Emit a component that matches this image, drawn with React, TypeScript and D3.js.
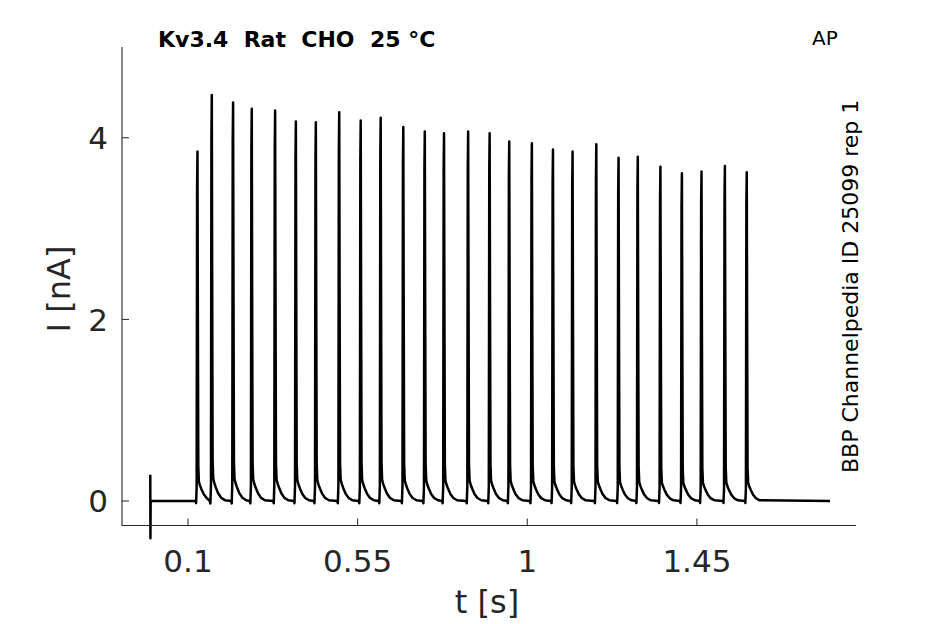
import React, { useRef, useEffect } from "react";
import * as d3 from "d3";

// spike times [s] and peak currents [nA]
const spikeTimes = [
  0.123, 0.161, 0.2175, 0.267, 0.329, 0.384, 0.437, 0.499, 0.556, 0.609,
  0.669, 0.726, 0.777, 0.841, 0.898, 0.95, 1.01, 1.066, 1.118, 1.181, 1.24,
  1.291, 1.351, 1.408, 1.46, 1.522, 1.58,
];
const spikePeaks = [
  3.85, 4.47, 4.39, 4.32, 4.3, 4.18, 4.17, 4.28, 4.19, 4.22, 4.12, 4.07, 4.05,
  4.07, 4.05, 3.96, 3.94, 3.87, 3.85, 3.93, 3.78, 3.79, 3.68, 3.61, 3.63, 3.69,
  3.62,
];
// one spike: offset [ms], fraction of peak
const spikeShapeMs = [-3, -1.5, 0, 1.2, 2.2, 3.2, 4.4, 6, 9, 13, 19, 27, 37];
const spikeShapeFrac = [0, -0.006, 0.04, 0.9, 1, 0.55, 0.1, 0.055, 0.044, 0.033, 0.019, 0.008, 0.002];
// stimulus artifact at t = 0 [s, nA]
const artifactT = [0, 0.0004, 0.001];
const artifactI = [0.29, -0.41, 0];
const traceEnd = 1.803;

const xTicks = [0.1, 0.55, 1, 1.45];
const yTicks = [0, 2, 4];

const W = 945;
const H = 624;

const App = () => {
  const ref = useRef<SVGSVGElement | null>(null);

  useEffect(() => {
    document.body.style.margin = "0";
    if (!ref.current) return;
    const svg = d3.select(ref.current);
    svg.selectAll("*").remove();

    const x = d3.scaleLinear().domain([-0.075, 1.872]).range([122, 856]);
    const y = d3.scaleLinear().domain([-0.27, 5]).range([525.5, 47]);
    const axisCol = "#262626";
    const font = "DejaVu Sans";

    // build the trace
    const pts: [number, number][] = artifactT.map((t, i) => [t, artifactI[i]]);
    spikeTimes.forEach((ts, i) => {
      const next = i < spikeTimes.length - 1 ? spikeTimes[i + 1] : Infinity;
      spikeShapeMs.forEach((ms, j) => {
        const t = ts + ms / 1000;
        if (t < next - 0.004) pts.push([t, spikePeaks[i] * spikeShapeFrac[j]]);
      });
    });
    pts.push([traceEnd, 0]);

    const line = d3
      .line<[number, number]>()
      .x((d) => x(d[0]))
      .y((d) => y(d[1]));

    svg
      .append("path")
      .attr("d", line(pts)!)
      .attr("fill", "none")
      .attr("stroke", "#000")
      .attr("stroke-width", 2.5)
      .attr("stroke-linejoin", "round");

    // axes
    const [x0, x1] = x.range();
    const [y0, y1] = y.range();
    svg
      .append("path")
      .attr("d", `M${x0},${y1}V${y0}H${x1}`)
      .attr("fill", "none")
      .attr("stroke", axisCol)
      .attr("stroke-width", 1.1);

    svg
      .selectAll(".xt")
      .data(xTicks)
      .enter()
      .append("line")
      .attr("x1", (d) => x(d))
      .attr("x2", (d) => x(d))
      .attr("y1", y0)
      .attr("y2", y0 - 7)
      .attr("stroke", axisCol);

    svg
      .selectAll(".xl")
      .data(xTicks)
      .enter()
      .append("text")
      .attr("x", (d) => x(d))
      .attr("y", 572)
      .attr("text-anchor", "middle")
      .attr("font-family", font)
      .attr("font-size", 31)
      .attr("fill", axisCol)
      .text((d) => String(d));

    svg
      .selectAll(".yt")
      .data(yTicks)
      .enter()
      .append("line")
      .attr("x1", x0)
      .attr("x2", x0 + 7)
      .attr("y1", (d) => y(d))
      .attr("y2", (d) => y(d))
      .attr("stroke", axisCol);

    svg
      .selectAll(".yl")
      .data(yTicks)
      .enter()
      .append("text")
      .attr("x", 108)
      .attr("y", (d) => y(d) + 11.3)
      .attr("text-anchor", "end")
      .attr("font-family", font)
      .attr("font-size", 31)
      .attr("fill", axisCol)
      .text((d) => String(d));

    // axis labels
    svg
      .append("text")
      .attr("x", 487)
      .attr("y", 613)
      .attr("text-anchor", "middle")
      .attr("font-family", font)
      .attr("font-size", 32)
      .attr("fill", axisCol)
      .text("t [s]");

    svg
      .append("text")
      .attr("transform", "translate(70,289) rotate(-90)")
      .attr("text-anchor", "middle")
      .attr("font-family", font)
      .attr("font-size", 32)
      .attr("fill", axisCol)
      .text("I [nA]");

    // titles
    svg
      .append("text")
      .attr("x", 158)
      .attr("y", 47)
      .attr("font-family", font)
      .attr("font-weight", "bold")
      .attr("font-size", 22)
      .style("white-space", "pre")
      .text("Kv3.4  Rat  CHO  25 °C");

    svg
      .append("text")
      .attr("x", 812)
      .attr("y", 45)
      .attr("font-family", font)
      .attr("font-size", 20)
      .text("AP");

    svg
      .append("text")
      .attr("transform", "translate(858,473) rotate(-90)")
      .attr("font-family", font)
      .attr("font-size", 22)
      .text("BBP Channelpedia ID 25099 rep 1");
  }, []);

  return <svg ref={ref} width={W} height={H} viewBox={`0 0 ${W} ${H}`} style={{ display: "block" }} />;
};

export default App;
